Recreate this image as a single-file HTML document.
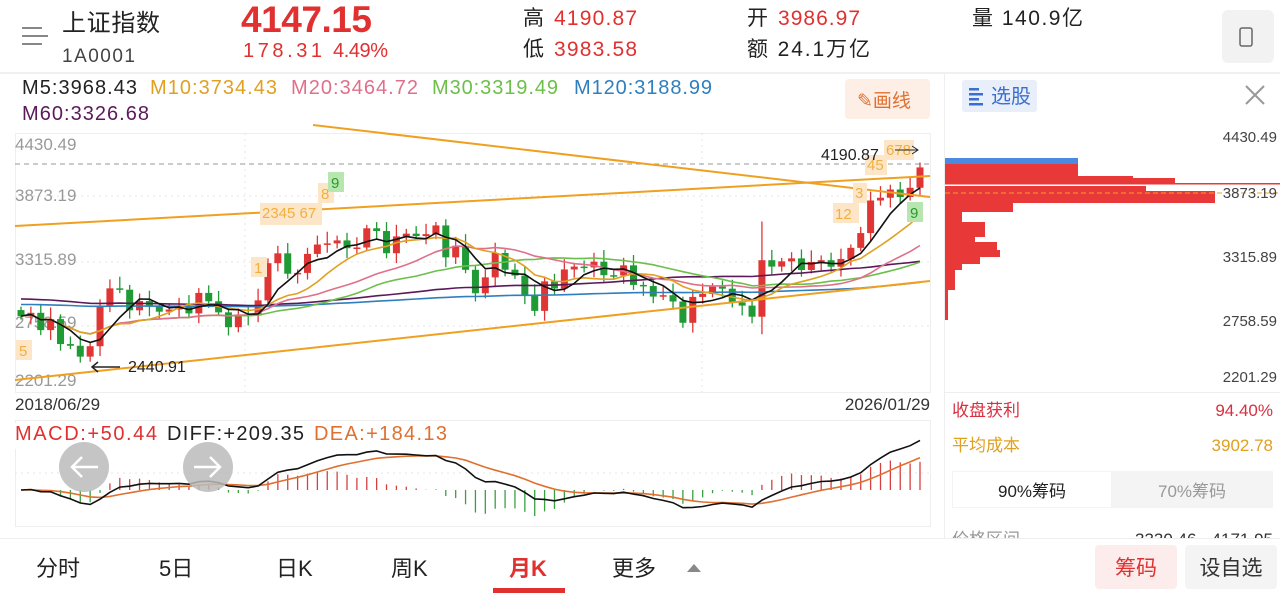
<!DOCTYPE html>
<html><head><meta charset="utf-8"><style>
html,body{margin:0;padding:0;background:#fff;width:1280px;height:593px;overflow:hidden}
svg{display:block;font-family:"Liberation Sans","Noto Sans CJK SC",sans-serif}
</style></head><body>
<svg id="s" width="1280" height="593" viewBox="0 0 1280 593" xmlns="http://www.w3.org/2000/svg">
<rect width="1280" height="593" fill="#fff"/>
<g fill="#888"><rect x="22" y="27" width="20" height="2"/><rect x="22" y="35" width="26" height="2"/><rect x="22" y="43" width="20" height="2"/></g>
<text x="62" y="31" font-size="24" fill="#222" textLength="98">上证指数</text>
<text x="62" y="62" font-size="19" fill="#444" textLength="73">1A0001</text>
<text x="241" y="32" font-size="37" font-weight="bold" fill="#e03030" textLength="131">4147.15</text>
<text x="243" y="57" font-size="20" fill="#e03030" textLength="79">178.31</text>
<text x="333" y="57" font-size="20" fill="#e03030" textLength="55">4.49%</text>
<text x="523" y="25" font-size="21" fill="#222">高</text><text x="554" y="25" font-size="21" fill="#e03030" textLength="83">4190.87</text>
<text x="523" y="56" font-size="21" fill="#222">低</text><text x="554" y="56" font-size="21" fill="#e03030" textLength="83">3983.58</text>
<text x="747" y="25" font-size="21" fill="#222">开</text><text x="778" y="25" font-size="21" fill="#e03030" textLength="82">3986.97</text>
<text x="747" y="56" font-size="21" fill="#222" textLength="123">额 24.1万亿</text>
<text x="972" y="25" font-size="21" fill="#222" textLength="111">量 140.9亿</text>
<rect x="1222" y="10" width="52" height="53" rx="6" fill="#f2f2f2"/>
<rect x="1240" y="28" width="12" height="18" rx="2" fill="none" stroke="#666" stroke-width="1.5"/>
<rect x="0" y="72" width="1280" height="2" fill="#f0f0f0"/>
<text x="22" y="94" font-size="20" fill="#222" textLength="115">M5:3968.43</text>
<text x="150" y="94" font-size="20" fill="#e0a020" textLength="127">M10:3734.43</text>
<text x="291" y="94" font-size="20" fill="#e0708a" textLength="127">M20:3464.72</text>
<text x="432" y="94" font-size="20" fill="#6cbf4a" textLength="126">M30:3319.49</text>
<text x="574" y="94" font-size="20" fill="#2f7fbf" textLength="138">M120:3188.99</text>
<text x="22" y="120" font-size="20" fill="#5a1a5a" textLength="127">M60:3326.68</text>
<rect x="845" y="79" width="85" height="40" rx="4" fill="#fdeee6"/>
<text x="857" y="107" font-size="19" fill="#e07030">✎画线</text>
<rect x="15.5" y="133.5" width="915" height="259" fill="none" stroke="#eee"/>
<g stroke="#e4e4e4" stroke-dasharray="2,4">
<line x1="15" y1="196" x2="930" y2="196"/><line x1="15" y1="262" x2="930" y2="262"/><line x1="15" y1="326" x2="930" y2="326"/>
<line x1="245" y1="133" x2="245" y2="392"/><line x1="702" y1="133" x2="702" y2="392"/>
</g>
<g font-size="17" fill="#999">
<text x="15" y="150">4430.49</text><text x="15" y="201">3873.19</text><text x="15" y="265">3315.89</text><text x="15" y="328">2758.59</text><text x="15" y="386">2201.29</text>
</g>
<line x1="15" y1="164" x2="930" y2="164" stroke="#999" stroke-dasharray="5,4"/>
<g id="cs"></g>
<g id="ma" fill="none" stroke-width="1.6"></g>
<g stroke="#f0a020" stroke-width="2">
<line x1="15" y1="226" x2="930" y2="176"/><line x1="15" y1="380" x2="930" y2="281"/><line x1="313" y1="125" x2="930" y2="197"/>
</g>
<g font-size="15" fill="#f0b040">
<rect x="16" y="340" width="16" height="20" fill="#fde6c8"/><text x="19" y="356">5</text>
<rect x="251" y="257" width="16" height="20" fill="#fde6c8"/><text x="254" y="273">1</text>
<rect x="260" y="203" width="62" height="22" fill="#fde6c8"/><text x="262" y="218">2345 67</text>
<rect x="318" y="183" width="16" height="20" fill="#fde6c8"/><text x="321" y="199">8</text>
<rect x="328" y="172" width="16" height="20" fill="#b8e6b0"/><text x="331" y="188" fill="#2a9a2a">9</text>
<rect x="833" y="203" width="26" height="20" fill="#fde6c8"/><text x="835" y="219">12</text>
<rect x="853" y="183" width="14" height="20" fill="#fde6c8"/><text x="855" y="198">3</text>
<rect x="865" y="155" width="22" height="20" fill="#fde6c8"/><text x="867" y="170">45</text>
<rect x="884" y="140" width="30" height="20" fill="#fde6c8"/><text x="886" y="155">678</text>
<rect x="907" y="202" width="16" height="20" fill="#b8e6b0"/><text x="910" y="218" fill="#2a9a2a">9</text>
</g>
<text x="821" y="160" font-size="16" fill="#222">4190.87</text>
<path d="M895 150 H918 M912 146 L918 150 L912 154" stroke="#222" fill="none"/>
<path d="M92 367 H120 M98 362 L92 367 L98 372" stroke="#222" fill="none" stroke-width="1.5"/>
<text x="128" y="372" font-size="16" fill="#222">2440.91</text>
<text x="15" y="410" font-size="17" fill="#333">2018/06/29</text>
<text x="930" y="410" font-size="17" fill="#333" text-anchor="end">2026/01/29</text>
<rect x="15.5" y="420.5" width="915" height="106" fill="none" stroke="#eee"/>
<line x1="15" y1="473" x2="930" y2="473" stroke="#e4e4e4" stroke-dasharray="2,4"/>
<g id="mc"></g>
<rect x="14" y="423" width="440" height="26" fill="#fff"/>
<text x="15" y="440" font-size="20" fill="#e03030" textLength="142">MACD:+50.44</text>
<text x="167" y="440" font-size="20" fill="#222" textLength="137">DIFF:+209.35</text>
<text x="314" y="440" font-size="20" fill="#e07030" textLength="133">DEA:+184.13</text>
<circle cx="84" cy="467" r="25" fill="#bbb" opacity="0.85"/><circle cx="208" cy="467" r="25" fill="#bbb" opacity="0.85"/>
<path d="M72 467 H98 M82 457 L72 467 L82 477" stroke="#fff" stroke-width="2.5" fill="none"/>
<path d="M194 467 H220 M210 457 L220 467 L210 477" stroke="#fff" stroke-width="2.5" fill="none"/>
<rect x="944" y="74" width="1" height="465" fill="#eee"/>
<rect x="962" y="80" width="75" height="32" rx="3" fill="#e8effa"/>
<g fill="#3a6fd0"><rect x="969" y="88" width="10" height="2.5"/><rect x="969" y="93" width="14" height="2.5"/><rect x="969" y="98" width="10" height="2.5"/><rect x="969" y="103" width="14" height="2.5"/></g>
<text x="991" y="103" font-size="20" fill="#3a6fd0">选股</text>
<path d="M1246 86 L1264 104 M1264 86 L1246 104" stroke="#999" stroke-width="2"/>
<g fill="#e83838">
<rect x="945" y="164" width="133" height="12"/><rect x="945" y="176" width="188" height="3"/><rect x="945" y="178" width="230" height="5"/>
<rect x="945" y="183" width="335" height="1.5"/><rect x="945" y="186" width="201" height="6"/><rect x="945" y="191" width="270" height="12"/>
<rect x="945" y="203" width="68" height="9"/><rect x="945" y="212" width="17" height="10"/><rect x="945" y="222" width="40" height="15"/>
<rect x="945" y="237" width="30" height="5"/><rect x="945" y="242" width="52" height="8"/><rect x="945" y="250" width="55" height="7"/>
<rect x="945" y="257" width="35" height="7"/><rect x="945" y="264" width="17" height="6"/><rect x="945" y="270" width="10" height="20"/><rect x="945" y="290" width="3" height="30"/>
</g>
<rect x="945" y="158" width="133" height="6" fill="#4a8ae0"/>
<line x1="945" y1="193" x2="1280" y2="193" stroke="#f0a020" stroke-dasharray="5,3"/>
<g font-size="15" fill="#444" text-anchor="end">
<text x="1277" y="142">4430.49</text><text x="1277" y="198">3873.19</text><text x="1277" y="262">3315.89</text><text x="1277" y="326">2758.59</text><text x="1277" y="382">2201.29</text>
</g>
<rect x="945" y="392" width="335" height="1" fill="#eee"/>
<text x="952" y="416" font-size="17" fill="#d83040">收盘获利</text>
<text x="1273" y="416" font-size="17" fill="#d83040" text-anchor="end">94.40%</text>
<text x="952" y="451" font-size="17" fill="#e0a020">平均成本</text>
<text x="1273" y="451" font-size="17" fill="#e0a020" text-anchor="end">3902.78</text>
<rect x="952" y="471" width="321" height="37" fill="#f4f4f4"/>
<rect x="953" y="472" width="158" height="35" fill="#fff"/>
<text x="1032" y="497" font-size="17" fill="#222" text-anchor="middle">90%筹码</text>
<text x="1192" y="497" font-size="17" fill="#999" text-anchor="middle">70%筹码</text>
<text x="952" y="545" font-size="17" fill="#999">价格区间</text>
<text x="1273" y="545" font-size="17" fill="#333" text-anchor="end">3330.46 - 4171.95</text>
<rect x="0" y="538" width="1280" height="55" fill="#fff"/>
<rect x="0" y="538" width="1280" height="1" fill="#eee"/>
<g font-size="22" fill="#222">
<text x="36" y="576">分时</text><text x="159" y="576">5日</text><text x="276" y="576">日K</text><text x="391" y="576">周K</text>
<text x="509" y="576" fill="#e03030" font-weight="bold">月K</text><text x="612" y="576">更多</text>
</g>
<path d="M687 572 L694 564 L701 572 Z" fill="#888"/>
<rect x="493" y="588" width="72" height="5" fill="#e03030"/>
<rect x="1095" y="545" width="82" height="44" rx="4" fill="#fdecec"/>
<text x="1136" y="575" font-size="21" fill="#e03030" text-anchor="middle">筹码</text>
<rect x="1185" y="545" width="92" height="44" rx="4" fill="#f4f4f4"/>
<text x="1231" y="575" font-size="21" fill="#333" text-anchor="middle">设自选</text>
</svg>
<script>
var C=[2847,2876,2725,2821,2603,2588,2493,2584,2940,3090,3078,2898,2979,2932,2886,2905,2929,2871,3050,2977,2880,2750,2860,2852,2985,3310,3396,3218,3225,3391,3473,3483,3509,3441,3447,3615,3591,3397,3544,3568,3547,3564,3640,3361,3462,3252,3047,3186,3399,3253,3202,3024,2893,3151,3089,3255,3280,3273,3323,3205,3202,3291,3120,3110,3018,3030,2975,2789,3015,3041,3105,3087,2967,2939,2842,3336,3280,3326,3352,3250,3320,3336,3279,3347,3444,3573,3858,3882,3954,3888,3969,4147];
var n=C.length,x0=21,dx=(920-21)/(n-1);
function Y(p){return 135+(4430.49-p)/2229.2*255;}
var NS="http://www.w3.org/2000/svg";
function el(t,a,par){var e=document.createElementNS(NS,t);for(var k in a)e.setAttribute(k,a[k]);document.getElementById(par).appendChild(e);return e;}
for(var i=0;i<n;i++){var o=i?C[i-1]:2900,c=C[i];var h=Math.max(o,c)+30+((i*37)%7)*12,l=Math.min(o,c)-30-((i*53)%5)*14;
if(i==75){h=3674;l=2689;}if(i==91){h=4190;}if(i==6)l=2441;
var col=c>=o?"#e03535":"#1f9a35",x=x0+i*dx;
el("line",{x1:x,x2:x,y1:Y(h),y2:Y(l),stroke:col,"stroke-width":1.3},"cs");
var yt=Y(Math.max(o,c)),yb=Y(Math.min(o,c));el("rect",{x:x-3.5,y:yt,width:7,height:Math.max(1.5,yb-yt),fill:col},"cs");}
function ma(k){var pts=[];for(var i=0;i<n;i++){var s=0,m=0;for(var j=Math.max(0,i-k+1);j<=i;j++){s+=C[j];m++;}var v=s/m;if(k>=60&&i<k){v=v*(m/k)+(k==120?2950:3000)*(1-m/k);}pts.push((x0+i*dx).toFixed(1)+","+Y(v).toFixed(1));}return pts.join(" ");}
[[120,"#2f7fbf"],[60,"#5a1a5a"],[30,"#6cbf4a"],[20,"#e0708a"],[10,"#e0a020"],[5,"#111"]].forEach(function(a){el("polyline",{points:ma(a[0]),stroke:a[1]},"ma");});
var e12=C[0],e26=C[0],dea=0,D=[],E=[];
for(var i=0;i<n;i++){e12=e12+(C[i]-e12)*2/13;e26=e26+(C[i]-e26)*2/27;var d=e12-e26;dea=dea+(d-dea)*0.2;D.push(d);E.push(dea);}
function MY(v){return Math.max(423,Math.min(525,490-v*0.22));}
var pd=[],pe=[];
for(var i=0;i<n;i++){var x=x0+i*dx,m=(D[i]-E[i])*2;
el("line",{x1:x,x2:x,y1:490,y2:490-m*0.18,stroke:m>=0?"#d84040":"#3aa040","stroke-width":1.3},"mc");
pd.push(x.toFixed(1)+","+MY(D[i]*1.0).toFixed(1));pe.push(x.toFixed(1)+","+MY(E[i]*1.0).toFixed(1));}
el("polyline",{points:pe.join(" "),stroke:"#e07030",fill:"none","stroke-width":1.6},"mc");
el("polyline",{points:pd.join(" "),stroke:"#111",fill:"none","stroke-width":1.6},"mc");
</script>
</body></html>
